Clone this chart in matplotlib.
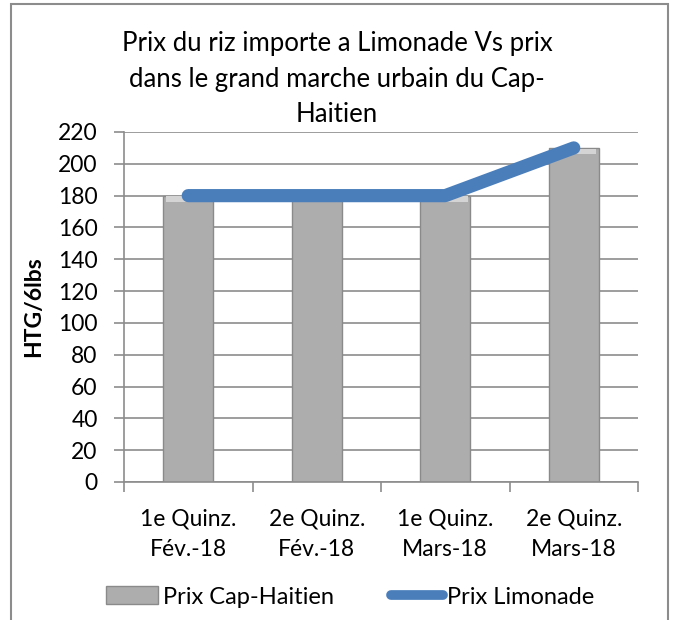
import matplotlib
matplotlib.use("Agg")
import matplotlib.pyplot as plt
from matplotlib.patches import Rectangle, Patch
from matplotlib.lines import Line2D

categories = ["1e Quinz.\nFév.-18", "2e Quinz.\nFév.-18", "1e Quinz.\nMars-18", "2e Quinz.\nMars-18"]
cap_haitien = [180, 180, 180, 210]
limonade = [180, 180, 180, 210]
yticks = list(range(0, 221, 20))

plt.rcParams['font.family'] = ['Lato', 'DejaVu Sans']

fig = plt.figure(figsize=(6.74, 6.2), dpi=100)
ax = fig.add_axes([124/674, 1-482/620, (638-124)/674, (482-132)/620])

x = list(range(len(categories)))
bars = ax.bar(x, cap_haitien, width=0.39, color='#adadad', edgecolor='#8a8a8a', linewidth=1.0, zorder=2)
for b in bars:
    ax.add_patch(Rectangle((b.get_x()+0.02, b.get_height()-4), b.get_width()-0.04, 3.5,
                           facecolor='#d4d4d4', edgecolor='none', zorder=3))
ax.plot(x, limonade, color='#4a7ebb', linewidth=9.5, solid_capstyle='round', zorder=4)

ax.set_xlim(-0.5, len(categories)-0.5)
ax.set_ylim(0, 220)
ax.set_yticks(yticks)
ax.set_yticklabels([str(v) for v in yticks], fontsize=16.5)
ax.set_xticks(x)
ax.set_xticklabels(categories, fontsize=16.5, linespacing=1.55)
ax.tick_params(axis='x', length=0, pad=19)
ax.tick_params(axis='y', length=7, color='#8c8c8c', width=1.2, pad=12)
ax.set_xticks([i-0.5 for i in range(len(categories)+1)], minor=True)
ax.tick_params(axis='x', which='minor', length=7, color='#8c8c8c', width=1.2)
ax.grid(axis='y', color='#8c8c8c', linewidth=1.2, zorder=0)
ax.set_axisbelow(True)
for s in ['top', 'right']:
    ax.spines[s].set_visible(False)
for s in ['left', 'bottom']:
    ax.spines[s].set_color('#8c8c8c')
    ax.spines[s].set_linewidth(1.2)

ax.set_ylabel("HTG/6lbs", fontsize=16.5, fontweight='bold', labelpad=10)

fig.text(0.5, 1-79/620, "Prix du riz importe a Limonade Vs prix\ndans le grand marche urbain du Cap-\nHaitien",
         ha='center', va='center', fontsize=18.5, linespacing=1.5)

handles = [Patch(facecolor='#adadad', edgecolor='#8a8a8a'),
           Line2D([0], [0], color='#4a7ebb', linewidth=7, solid_capstyle='round')]
fig.legend(handles, ["Prix Cap-Haitien", "Prix Limonade"], loc='center',
           bbox_to_anchor=(0.52, 1-597/620), ncol=2, frameon=False, fontsize=17,
           handlelength=2.2, handletextpad=0.2, columnspacing=2.4, handleheight=0.8)

fig.add_artist(Rectangle((11/674, -0.01), (668-11)/674, 1-4/620+0.01, transform=fig.transFigure,
                         fill=False, edgecolor='#8c8c8c', linewidth=1.5))

fig.savefig("out.png", dpi=100)
